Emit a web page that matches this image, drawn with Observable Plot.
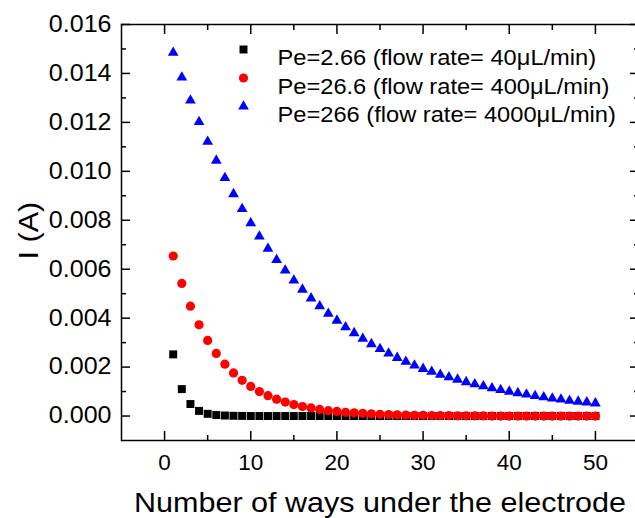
<!DOCTYPE html>
<html><head><meta charset="utf-8">
<script src="https://cdn.jsdelivr.net/npm/d3@7"></script>
<script src="https://cdn.jsdelivr.net/npm/@observablehq/plot@0.6"></script>
<style>body{margin:0;background:#fff}</style>
</head><body><div id="chart"></div>
<script>
const ways = [1,2,3,4,5,6,7,8,9,10,11,12,13,14,15,16,17,18,19,20,21,22,23,24,25,26,27,28,29,30,31,32,33,34,35,36,37,38,39,40,41,42,43,44,45,46,47,48,49,50];
const iPe2_66 = [0.00252,0.00110,0.00049,0.00021,0.00009,0.00004,0.00002,0.00001,0.000004,0,0,0,0,0,0,0,0,0,0,0,0,0,0,0,0,0,0,0,0,0,0,0,0,0,0,0,0,0,0,0,0,0,0,0,0,0,0,0,0,0];
const iPe26_6 = [0.00654,0.00542,0.00449,0.00373,0.00309,0.00256,0.00212,0.00176,0.00146,0.00121,0.00100,0.00083,0.00069,0.00057,0.00047,0.00039,0.00033,0.00027,0.00022,0.00019,0.00015,0.00013,0.00011,0.00009,0.00007,0.00006,0.00005,0.00004,0.00003,0.00003,0.00002,0.00002,0.00002,0.00001,0.00001,0.00001,0.00001,0,0,0,0,0,0,0,0,0,0,0,0,0];
const iPe266 = [0.01485,0.01384,0.01290,0.01202,0.01121,0.01044,0.00973,0.00907,0.00846,0.00788,0.00734,0.00684,0.00638,0.00595,0.00554,0.00517,0.00481,0.00449,0.00418,0.00390,0.00363,0.00339,0.00316,0.00294,0.00274,0.00256,0.00238,0.00222,0.00207,0.00193,0.00181,0.00169,0.00159,0.00149,0.00139,0.00130,0.00122,0.00114,0.00107,0.00100,0.00094,0.00088,0.00082,0.00077,0.00072,0.00068,0.00063,0.00059,0.00056,0.00052];
const seriesNames = ["Pe=2.66 (flow rate= 40μL/min)", "Pe=26.6 (flow rate= 400μL/min)", "Pe=266 (flow rate= 4000μL/min)"];
const seriesValues = [iPe2_66, iPe26_6, iPe266];
const seriesColors = ["#000000", "#ff0000", "#0000ff"];
const seriesSymbols = ["square", "circle", "triangle"];
const seriesRadius = [4.5, 4.6, 4.0];
const xMajorTicks = [0, 10, 20, 30, 40, 50];
const xMinorTicks = [5, 15, 25, 35, 45];
const yMajorTicks = [0, 0.002, 0.004, 0.006, 0.008, 0.010, 0.012, 0.014, 0.016];
const yMinorTicks = [0.001, 0.003, 0.005, 0.007, 0.009, 0.011, 0.013, 0.015];
const xTitle = "Number of ways under the electrode";
const yTitle = "I (A)";

const fontFamily = "'Liberation Sans', Arial, Helvetica, sans-serif";
const blank = () => "";
const marks = [];
marks.push(Plot.frame({stroke: "black", strokeWidth: 1.5}));
marks.push(Plot.axisX({anchor: "bottom", ticks: xMajorTicks, tickSize: -9, tickPadding: 23, fontSize: 22.5, tickFormat: d => String(d), label: null, strokeWidth: 1.5}));
marks.push(Plot.axisX({anchor: "bottom", ticks: xMinorTicks, tickSize: -5, tickFormat: blank, label: null, strokeWidth: 1.5}));
marks.push(Plot.axisX({anchor: "top", ticks: xMajorTicks, tickSize: -9, tickFormat: blank, label: null, strokeWidth: 1.5}));
marks.push(Plot.axisX({anchor: "top", ticks: xMinorTicks, tickSize: -5, tickFormat: blank, label: null, strokeWidth: 1.5}));
marks.push(Plot.axisY({anchor: "left", ticks: yMajorTicks, tickSize: -9, tickPadding: 19, fontSize: 23, tickFormat: d3.format(".3f"), label: null, strokeWidth: 1.5, ariaLabel: "ymajor"}));
marks.push(Plot.axisY({anchor: "left", ticks: yMinorTicks, tickSize: -5, tickFormat: blank, label: null, strokeWidth: 1.5}));
marks.push(Plot.axisY({anchor: "right", ticks: yMajorTicks, tickSize: -9, tickFormat: blank, label: null, strokeWidth: 1.5}));
marks.push(Plot.axisY({anchor: "right", ticks: yMinorTicks, tickSize: -5, tickFormat: blank, label: null, strokeWidth: 1.5}));

seriesValues.forEach((vals, k) => {
  const rows = ways.map((w, i) => ({x: w, y: vals[i]}));
  marks.push(Plot.dot(rows, {x: "x", y: "y", symbol: seriesSymbols[k], fill: seriesColors[k], r: seriesRadius[k], stroke: "none"}));
});

seriesNames.forEach((name, k) => {
  marks.push(Plot.dot([name], {frameAnchor: "top-left", dx: 122, dy: 25 + k * 28.5, symbol: seriesSymbols[k], fill: seriesColors[k], r: seriesRadius[k], stroke: "none"}));
  marks.push(Plot.text([name], {frameAnchor: "top-left", dx: 156, dy: 25 + k * 28.5, text: d => d, textAnchor: "start", fontSize: 22, fill: "black"}));
});

marks.push(Plot.text([xTitle], {frameAnchor: "bottom", dy: 71.5, text: d => d, fontSize: 28, fill: "black"}));
marks.push(Plot.text([yTitle], {frameAnchor: "left", dx: -92.5, dy: 27, rotate: -90, text: d => d, fontSize: 28, fill: "black"}));

const chart = Plot.plot({
  width: 635,
  height: 518,
  marginLeft: 121,
  marginRight: -3,
  marginTop: 24,
  marginBottom: 78,
  x: {domain: [-5, 55], label: null},
  y: {domain: [-0.001, 0.016], label: null},
  style: {fontFamily, fontSize: "22px", background: "white", color: "black"},
  marks
});
document.getElementById("chart").appendChild(chart);

// the reference's lettering is slightly wider than Liberation Sans: widen glyphs a little
function widen(t, factor) {
  const L = t.getComputedTextLength();
  if (L > 0) {
    t.setAttribute("textLength", (L * factor).toFixed(1));
    t.setAttribute("lengthAdjust", "spacingAndGlyphs");
  }
}
chart.querySelectorAll('g[aria-label="text"] text').forEach(t => {
  const s = t.textContent;
  if (seriesNames.includes(s)) widen(t, 1.075);
  else if (s === xTitle || s === yTitle) widen(t, 1.09);
});
chart.querySelectorAll('g[aria-label="ymajor tick label"] text').forEach(t => widen(t, 1.09));
</script>
</body></html>
